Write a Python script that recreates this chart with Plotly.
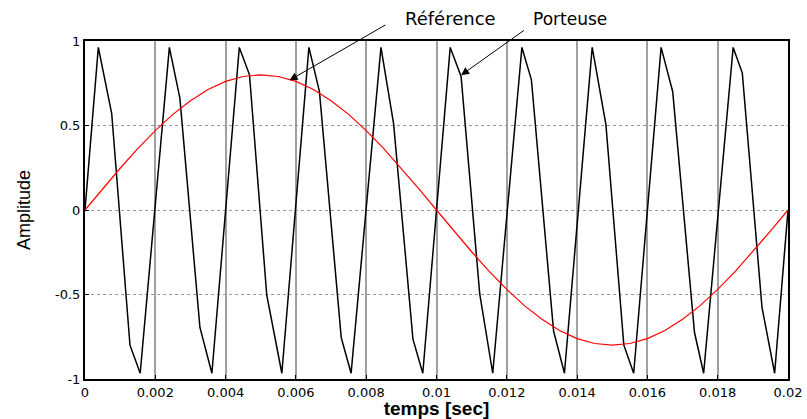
import plotly.graph_objects as go

# Carrier (Porteuse) vertices
carrier_t = [0, 0.000379, 0.00076, 0.00128, 0.00157, 0.0024, 0.0027, 0.00327, 0.00361,
             0.00439, 0.00468, 0.00517, 0.0056, 0.00637, 0.00667, 0.00729, 0.00757,
             0.00842, 0.00878, 0.00933, 0.00961, 0.01039, 0.0107, 0.01123, 0.0116,
             0.01243, 0.0127, 0.01333, 0.01364, 0.01443, 0.01482, 0.01533, 0.01561,
             0.01639, 0.01672, 0.01734, 0.0176, 0.01844, 0.0187, 0.01926, 0.01962, 0.02]
carrier_y = [0, 0.962, 0.571, -0.80, -0.966, 0.962, 0.66, -0.695, -0.966,
             0.962, 0.80, -0.503, -0.966, 0.962, 0.70, -0.755, -0.966,
             0.962, 0.51, -0.764, -0.966, 0.962, 0.79, -0.497, -0.966,
             0.962, 0.77, -0.715, -0.966, 0.962, 0.505, -0.80, -0.966,
             0.962, 0.70, -0.725, -0.966, 0.962, 0.81, -0.576, -0.966, 0.0]

# Reference (Référence)
ref_t = [0, 0.0005, 0.001, 0.0015, 0.002, 0.0025, 0.003, 0.0035, 0.004, 0.0045, 0.005,
         0.0055, 0.006, 0.0065, 0.007, 0.0075, 0.008, 0.0085, 0.009, 0.0095, 0.01,
         0.0105, 0.011, 0.0115, 0.012, 0.0125, 0.013, 0.0135, 0.014, 0.0145, 0.015,
         0.0155, 0.016, 0.0165, 0.017, 0.0175, 0.018, 0.0185, 0.019, 0.0195, 0.02]
ref_y = [0.0, 0.125, 0.247, 0.363, 0.470, 0.566, 0.647, 0.713, 0.761, 0.790, 0.800,
         0.790, 0.761, 0.713, 0.647, 0.566, 0.470, 0.363, 0.247, 0.125, 0.0,
         -0.125, -0.247, -0.363, -0.470, -0.566, -0.647, -0.713, -0.761, -0.790, -0.800,
         -0.790, -0.761, -0.713, -0.647, -0.566, -0.470, -0.363, -0.247, -0.125, 0.0]

x_ticks = [0, 0.002, 0.004, 0.006, 0.008, 0.01, 0.012, 0.014, 0.016, 0.018, 0.02]
x_labels = ["0", "0.002", "0.004", "0.006", "0.008", "0.01", "0.012", "0.014", "0.016", "0.018", "0.02"]
y_ticks = [-1, -0.5, 0, 0.5, 1]
y_labels = ["-1", "-0.5", "0", "0.5", "1"]

W, H = 807, 419
ML, MR, MT, MB = 85, 19, 41, 40

fig = go.Figure()
fig.add_trace(go.Scatter(x=carrier_t, y=carrier_y, mode="lines",
                         line=dict(color="black", width=1.5), name="Porteuse"))
fig.add_trace(go.Scatter(x=ref_t, y=ref_y, mode="lines",
                         line=dict(color="#ff0000", width=1.2), name="Référence"))

tick_font = dict(family="DejaVu Sans", size=13, color="black")

fig.update_layout(
    width=W, height=H,
    margin=dict(l=ML, r=MR, t=MT, b=MB, autoexpand=False),
    paper_bgcolor="white", plot_bgcolor="white",
    showlegend=False,
    xaxis=dict(range=[0, 0.02], tickvals=x_ticks, ticktext=x_labels, automargin=False,
               showgrid=True, gridcolor="#a0a0a0", gridwidth=1.5,
               showline=True, linecolor="black", linewidth=2, mirror=True,
               ticks="inside", ticklen=4, tickcolor="black",
               tickfont=tick_font, zeroline=False,
               title=dict(text="<b>temps [sec]</b>", standoff=6,
                          font=dict(family="Liberation Sans", size=19, color="black"))),
    yaxis=dict(range=[-1, 1], tickvals=y_ticks, ticktext=y_labels, automargin=False,
               showgrid=True, gridcolor="#9a9a9a", gridwidth=1, griddash="dot",
               showline=True, linecolor="black", linewidth=2, mirror=True,
               ticks="inside", ticklen=4, tickcolor="black",
               tickfont=tick_font, zeroline=False,
               title=dict(text="Amplitude", standoff=20,
                          font=dict(family="Liberation Sans", size=18, color="black"))),
)

# Arrows
fig.add_annotation(x=0.00582, y=0.768, ax=0.00859, ay=1.10, xref="x", yref="y",
                   axref="x", ayref="y", text="", showarrow=True,
                   arrowhead=2, arrowsize=1.6, arrowwidth=1, arrowcolor="black")
fig.add_annotation(x=0.0107, y=0.798, ax=0.01253, ay=1.069, xref="x", yref="y",
                   axref="x", ayref="y", text="", showarrow=True,
                   arrowhead=2, arrowsize=1.6, arrowwidth=1, arrowcolor="black")

pw, ph = W - ML - MR, H - MT - MB
def paper(px, py):
    return (px - ML) / pw, (H - MB - py) / ph

lx, ly = paper(451, 19)
fig.add_annotation(x=lx, y=ly, xref="paper", yref="paper", text="Référence",
                   showarrow=False, xanchor="center", yanchor="middle",
                   font=dict(family="DejaVu Sans", size=18, color="black"))
lx, ly = paper(570, 19)
fig.add_annotation(x=lx, y=ly, xref="paper", yref="paper", text="Porteuse",
                   showarrow=False, xanchor="center", yanchor="middle",
                   font=dict(family="DejaVu Sans", size=17, color="black"))

fig.write_html("out.html")
